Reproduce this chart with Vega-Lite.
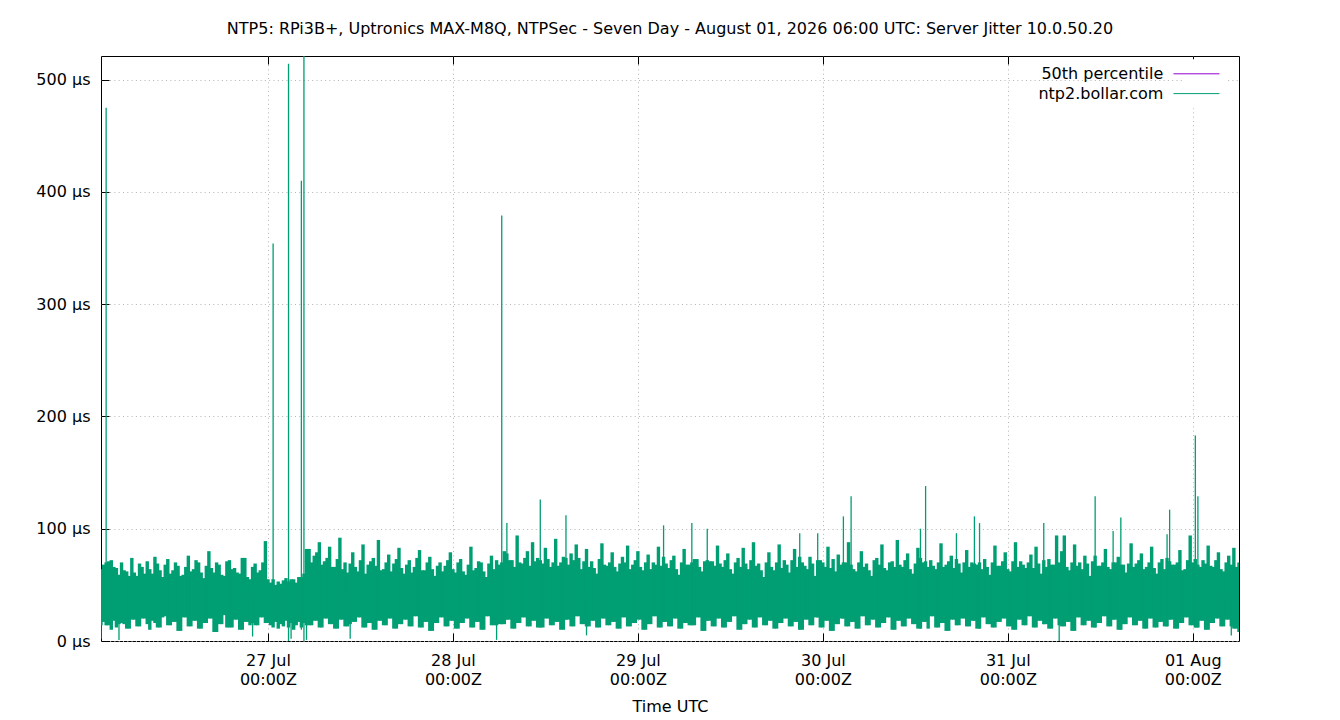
{
  "$schema": "https://vega.github.io/schema/vega-lite/v6.json",
  "width": 1138,
  "height": 585,
  "autosize": {"type": "none"},
  "padding": {"left": 101, "top": 56, "right": 101, "bottom": 79},
  "background": "white",
  "title": {"text": "NTP5: RPi3B+, Uptronics MAX-M8Q, NTPSec - Seven Day - August 01, 2026 06:00 UTC: Server Jitter 10.0.50.20", "font": "DejaVu Sans", "fontSize": 16, "fontWeight": "normal", "color": "black", "anchor": "middle", "offset": 19},
  "config": {
    "view": {"stroke": "black", "strokeWidth": 1},
    "axis": {"labelFont": "DejaVu Sans", "labelFontSize": 16, "labelColor": "black", "titleFont": "DejaVu Sans", "titleFontSize": 16, "titleFontWeight": "normal", "titleColor": "black", "tickColor": "black", "domain": false, "gridColor": "#b4b4b4", "gridDash": [1, 3.3], "gridWidth": 1},
    "legend": {"orient": "none", "legendX": 1081, "legendY": 3.3, "fillColor": "white", "labelFont": "DejaVu Sans", "labelFontSize": 16, "labelColor": "black", "labelAlign": "right", "labelOffset": -41.7, "symbolType": "M-3,0H3", "symbolSize": 235, "symbolStrokeWidth": 1, "rowPadding": 2.8, "padding": 6}
  },
  "data": {
    "values": [
      {"t":"2026-07-26T02:20","lo":14,"hi":64},{"t":"2026-07-26T02:40","lo":17,"hi":68},{"t":"2026-07-26T03:00","lo":14,"hi":70},{"t":"2026-07-26T03:20","lo":14,"hi":71},{"t":"2026-07-26T03:40","lo":10,"hi":72},
      {"t":"2026-07-26T04:00","lo":18,"hi":66},{"t":"2026-07-26T04:20","lo":12,"hi":65},{"t":"2026-07-26T04:40","lo":15,"hi":59},{"t":"2026-07-26T05:00","lo":16,"hi":70},{"t":"2026-07-26T05:20","lo":15,"hi":63},{"t":"2026-07-26T05:40","lo":11,"hi":62},
      {"t":"2026-07-26T06:00","lo":11,"hi":58},{"t":"2026-07-26T06:20","lo":19,"hi":74},{"t":"2026-07-26T06:40","lo":19,"hi":61},{"t":"2026-07-26T07:00","lo":13,"hi":58},{"t":"2026-07-26T07:20","lo":13,"hi":69},{"t":"2026-07-26T07:40","lo":20,"hi":66},
      {"t":"2026-07-26T08:00","lo":20,"hi":60},{"t":"2026-07-26T08:20","lo":15,"hi":71},{"t":"2026-07-26T08:40","lo":10,"hi":64},{"t":"2026-07-26T09:00","lo":18,"hi":60},{"t":"2026-07-26T09:20","lo":16,"hi":75},{"t":"2026-07-26T09:40","lo":12,"hi":69},
      {"t":"2026-07-26T10:00","lo":12,"hi":63},{"t":"2026-07-26T10:20","lo":21,"hi":57},{"t":"2026-07-26T10:40","lo":22,"hi":68},{"t":"2026-07-26T11:00","lo":14,"hi":73},{"t":"2026-07-26T11:20","lo":14,"hi":60},{"t":"2026-07-26T11:40","lo":17,"hi":63},
      {"t":"2026-07-26T12:00","lo":17,"hi":70},{"t":"2026-07-26T12:20","lo":9,"hi":67},{"t":"2026-07-26T12:40","lo":9,"hi":58},{"t":"2026-07-26T13:00","lo":21,"hi":59},{"t":"2026-07-26T13:20","lo":21,"hi":66},{"t":"2026-07-26T13:40","lo":13,"hi":76},
      {"t":"2026-07-26T14:00","lo":13,"hi":62},{"t":"2026-07-26T14:20","lo":18,"hi":64},{"t":"2026-07-26T14:40","lo":18,"hi":72},{"t":"2026-07-26T15:00","lo":11,"hi":70},{"t":"2026-07-26T15:20","lo":11,"hi":61},{"t":"2026-07-26T15:40","lo":16,"hi":56},
      {"t":"2026-07-26T16:00","lo":16,"hi":67},{"t":"2026-07-26T16:20","lo":20,"hi":80},{"t":"2026-07-26T16:40","lo":20,"hi":65},{"t":"2026-07-26T17:00","lo":8,"hi":61},{"t":"2026-07-26T17:20","lo":8,"hi":70},{"t":"2026-07-26T17:40","lo":15,"hi":68},
      {"t":"2026-07-26T18:00","lo":15,"hi":59},{"t":"2026-07-26T18:20","lo":23,"hi":58},{"t":"2026-07-26T18:40","lo":12,"hi":71},{"t":"2026-07-26T19:00","lo":12,"hi":72},{"t":"2026-07-26T19:20","lo":12,"hi":64},{"t":"2026-07-26T19:40","lo":19,"hi":65},
      {"t":"2026-07-26T20:00","lo":19,"hi":61},{"t":"2026-07-26T20:20","lo":10,"hi":60},{"t":"2026-07-26T20:40","lo":10,"hi":74},{"t":"2026-07-26T21:00","lo":17,"hi":74},{"t":"2026-07-26T21:20","lo":17,"hi":57},{"t":"2026-07-26T21:40","lo":14,"hi":55},
      {"t":"2026-07-26T22:00","lo":16,"hi":66},{"t":"2026-07-26T22:20","lo":14,"hi":69},{"t":"2026-07-26T22:40","lo":14,"hi":61},{"t":"2026-07-26T23:00","lo":21,"hi":63},{"t":"2026-07-26T23:20","lo":21,"hi":70},{"t":"2026-07-26T23:40","lo":16,"hi":89},
      {"t":"2026-07-27T00:00","lo":16,"hi":55},{"t":"2026-07-27T00:20","lo":14,"hi":52},{"t":"2026-07-27T00:40","lo":12,"hi":55},{"t":"2026-07-27T01:00","lo":17,"hi":50},{"t":"2026-07-27T01:20","lo":11,"hi":53},{"t":"2026-07-27T01:40","lo":15,"hi":51},
      {"t":"2026-07-27T02:00","lo":13,"hi":54},{"t":"2026-07-27T02:20","lo":18,"hi":56},{"t":"2026-07-27T02:40","lo":12,"hi":53},{"t":"2026-07-27T03:00","lo":16,"hi":55},{"t":"2026-07-27T03:20","lo":10,"hi":55},{"t":"2026-07-27T03:40","lo":14,"hi":52},
      {"t":"2026-07-27T04:00","lo":17,"hi":57},{"t":"2026-07-27T04:20","lo":12,"hi":57},{"t":"2026-07-27T04:40","lo":16,"hi":60},{"t":"2026-07-27T05:00","lo":14,"hi":82},{"t":"2026-07-27T05:20","lo":14,"hi":82},{"t":"2026-07-27T05:40","lo":14,"hi":70},
      {"t":"2026-07-27T06:00","lo":18,"hi":76},{"t":"2026-07-27T06:20","lo":18,"hi":79},{"t":"2026-07-27T06:40","lo":12,"hi":88},{"t":"2026-07-27T07:00","lo":12,"hi":68},{"t":"2026-07-27T07:20","lo":20,"hi":71},{"t":"2026-07-27T07:40","lo":20,"hi":74},
      {"t":"2026-07-27T08:00","lo":15,"hi":84},{"t":"2026-07-27T08:20","lo":15,"hi":66},{"t":"2026-07-27T08:40","lo":11,"hi":66},{"t":"2026-07-27T09:00","lo":11,"hi":73},{"t":"2026-07-27T09:20","lo":19,"hi":92},{"t":"2026-07-27T09:40","lo":19,"hi":64},
      {"t":"2026-07-27T10:00","lo":13,"hi":70},{"t":"2026-07-27T10:20","lo":13,"hi":61},{"t":"2026-07-27T10:40","lo":15,"hi":69},{"t":"2026-07-27T11:00","lo":17,"hi":79},{"t":"2026-07-27T11:20","lo":17,"hi":66},{"t":"2026-07-27T11:40","lo":21,"hi":62},
      {"t":"2026-07-27T12:00","lo":21,"hi":72},{"t":"2026-07-27T12:20","lo":12,"hi":86},{"t":"2026-07-27T12:40","lo":12,"hi":60},{"t":"2026-07-27T13:00","lo":16,"hi":68},{"t":"2026-07-27T13:20","lo":16,"hi":71},{"t":"2026-07-27T13:40","lo":10,"hi":74},
      {"t":"2026-07-27T14:00","lo":10,"hi":67},{"t":"2026-07-27T14:20","lo":18,"hi":90},{"t":"2026-07-27T14:40","lo":18,"hi":63},{"t":"2026-07-27T15:00","lo":14,"hi":64},{"t":"2026-07-27T15:20","lo":14,"hi":70},{"t":"2026-07-27T15:40","lo":20,"hi":77},
      {"t":"2026-07-27T16:00","lo":20,"hi":62},{"t":"2026-07-27T16:20","lo":11,"hi":69},{"t":"2026-07-27T16:40","lo":11,"hi":73},{"t":"2026-07-27T17:00","lo":15,"hi":83},{"t":"2026-07-27T17:20","lo":15,"hi":65},{"t":"2026-07-27T17:40","lo":19,"hi":60},
      {"t":"2026-07-27T18:00","lo":19,"hi":68},{"t":"2026-07-27T18:20","lo":13,"hi":72},{"t":"2026-07-27T18:40","lo":13,"hi":61},{"t":"2026-07-27T19:00","lo":22,"hi":66},{"t":"2026-07-27T19:20","lo":22,"hi":74},{"t":"2026-07-27T19:40","lo":12,"hi":81},
      {"t":"2026-07-27T20:00","lo":12,"hi":63},{"t":"2026-07-27T20:20","lo":17,"hi":63},{"t":"2026-07-27T20:40","lo":17,"hi":70},{"t":"2026-07-27T21:00","lo":9,"hi":75},{"t":"2026-07-27T21:20","lo":9,"hi":64},{"t":"2026-07-27T21:40","lo":16,"hi":58},
      {"t":"2026-07-27T22:00","lo":16,"hi":67},{"t":"2026-07-27T22:20","lo":21,"hi":70},{"t":"2026-07-27T22:40","lo":21,"hi":62},{"t":"2026-07-27T23:00","lo":13,"hi":67},{"t":"2026-07-27T23:20","lo":13,"hi":72},{"t":"2026-07-27T23:40","lo":18,"hi":79},
      {"t":"2026-07-28T00:00","lo":18,"hi":64},{"t":"2026-07-28T00:20","lo":11,"hi":61},{"t":"2026-07-28T00:40","lo":11,"hi":70},{"t":"2026-07-28T01:00","lo":16,"hi":73},{"t":"2026-07-28T01:20","lo":16,"hi":62},{"t":"2026-07-28T01:40","lo":20,"hi":59},
      {"t":"2026-07-28T02:00","lo":20,"hi":68},{"t":"2026-07-28T02:20","lo":12,"hi":84},{"t":"2026-07-28T02:40","lo":12,"hi":63},{"t":"2026-07-28T03:00","lo":17,"hi":65},{"t":"2026-07-28T03:20","lo":17,"hi":71},{"t":"2026-07-28T03:40","lo":10,"hi":70},
      {"t":"2026-07-28T04:00","lo":10,"hi":62},{"t":"2026-07-28T04:20","lo":22,"hi":57},{"t":"2026-07-28T04:40","lo":22,"hi":69},{"t":"2026-07-28T05:00","lo":14,"hi":76},{"t":"2026-07-28T05:20","lo":14,"hi":64},{"t":"2026-07-28T05:40","lo":14,"hi":72},
      {"t":"2026-07-28T06:00","lo":15,"hi":68},{"t":"2026-07-28T06:20","lo":15,"hi":70},{"t":"2026-07-28T06:40","lo":15,"hi":80},{"t":"2026-07-28T07:00","lo":19,"hi":78},{"t":"2026-07-28T07:20","lo":19,"hi":72},{"t":"2026-07-28T07:40","lo":11,"hi":72},
      {"t":"2026-07-28T08:00","lo":11,"hi":66},{"t":"2026-07-28T08:20","lo":16,"hi":94},{"t":"2026-07-28T08:40","lo":16,"hi":70},{"t":"2026-07-28T09:00","lo":21,"hi":69},{"t":"2026-07-28T09:20","lo":21,"hi":74},{"t":"2026-07-28T09:40","lo":13,"hi":80},
      {"t":"2026-07-28T10:00","lo":13,"hi":67},{"t":"2026-07-28T10:20","lo":18,"hi":88},{"t":"2026-07-28T10:40","lo":18,"hi":71},{"t":"2026-07-28T11:00","lo":12,"hi":74},{"t":"2026-07-28T11:20","lo":12,"hi":72},{"t":"2026-07-28T11:40","lo":12,"hi":69},
      {"t":"2026-07-28T12:00","lo":20,"hi":83},{"t":"2026-07-28T12:20","lo":20,"hi":73},{"t":"2026-07-28T12:40","lo":14,"hi":66},{"t":"2026-07-28T13:00","lo":14,"hi":70},{"t":"2026-07-28T13:20","lo":17,"hi":91},{"t":"2026-07-28T13:40","lo":17,"hi":67},
      {"t":"2026-07-28T14:00","lo":10,"hi":70},{"t":"2026-07-28T14:20","lo":10,"hi":75},{"t":"2026-07-28T14:40","lo":19,"hi":74},{"t":"2026-07-28T15:00","lo":19,"hi":68},{"t":"2026-07-28T15:20","lo":13,"hi":78},{"t":"2026-07-28T15:40","lo":13,"hi":72},
      {"t":"2026-07-28T16:00","lo":22,"hi":86},{"t":"2026-07-28T16:20","lo":22,"hi":74},{"t":"2026-07-28T16:40","lo":15,"hi":64},{"t":"2026-07-28T17:00","lo":15,"hi":71},{"t":"2026-07-28T17:20","lo":13,"hi":82},{"t":"2026-07-28T17:40","lo":13,"hi":66},
      {"t":"2026-07-28T18:00","lo":18,"hi":71},{"t":"2026-07-28T18:20","lo":18,"hi":65},{"t":"2026-07-28T18:40","lo":12,"hi":60},{"t":"2026-07-28T19:00","lo":12,"hi":73},{"t":"2026-07-28T19:20","lo":20,"hi":87},{"t":"2026-07-28T19:40","lo":20,"hi":68},
      {"t":"2026-07-28T20:00","lo":14,"hi":67},{"t":"2026-07-28T20:20","lo":14,"hi":70},{"t":"2026-07-28T20:40","lo":17,"hi":79},{"t":"2026-07-28T21:00","lo":17,"hi":66},{"t":"2026-07-28T21:20","lo":11,"hi":62},{"t":"2026-07-28T21:40","lo":11,"hi":69},
      {"t":"2026-07-28T22:00","lo":21,"hi":75},{"t":"2026-07-28T22:20","lo":21,"hi":70},{"t":"2026-07-28T22:40","lo":13,"hi":85},{"t":"2026-07-28T23:00","lo":13,"hi":64},{"t":"2026-07-28T23:20","lo":16,"hi":68},{"t":"2026-07-28T23:40","lo":16,"hi":72},
      {"t":"2026-07-29T00:00","lo":19,"hi":80},{"t":"2026-07-29T00:20","lo":19,"hi":66},{"t":"2026-07-29T00:40","lo":10,"hi":63},{"t":"2026-07-29T01:00","lo":10,"hi":70},{"t":"2026-07-29T01:20","lo":15,"hi":77},{"t":"2026-07-29T01:40","lo":15,"hi":64},
      {"t":"2026-07-29T02:00","lo":22,"hi":70},{"t":"2026-07-29T02:20","lo":22,"hi":68},{"t":"2026-07-29T02:40","lo":12,"hi":84},{"t":"2026-07-29T03:00","lo":12,"hi":67},{"t":"2026-07-29T03:20","lo":17,"hi":75},{"t":"2026-07-29T03:40","lo":17,"hi":69},
      {"t":"2026-07-29T04:00","lo":13,"hi":65},{"t":"2026-07-29T04:20","lo":13,"hi":72},{"t":"2026-07-29T04:40","lo":20,"hi":76},{"t":"2026-07-29T05:00","lo":20,"hi":64},{"t":"2026-07-29T05:20","lo":11,"hi":59},{"t":"2026-07-29T05:40","lo":11,"hi":70},
      {"t":"2026-07-29T06:00","lo":16,"hi":82},{"t":"2026-07-29T06:20","lo":16,"hi":68},{"t":"2026-07-29T06:40","lo":14,"hi":68},{"t":"2026-07-29T07:00","lo":14,"hi":70},{"t":"2026-07-29T07:20","lo":14,"hi":73},{"t":"2026-07-29T07:40","lo":21,"hi":73},
      {"t":"2026-07-29T08:00","lo":21,"hi":66},{"t":"2026-07-29T08:20","lo":9,"hi":62},{"t":"2026-07-29T08:40","lo":9,"hi":71},{"t":"2026-07-29T09:00","lo":18,"hi":72},{"t":"2026-07-29T09:20","lo":18,"hi":71},{"t":"2026-07-29T09:40","lo":13,"hi":71},
      {"t":"2026-07-29T10:00","lo":13,"hi":67},{"t":"2026-07-29T10:20","lo":20,"hi":85},{"t":"2026-07-29T10:40","lo":20,"hi":69},{"t":"2026-07-29T11:00","lo":12,"hi":66},{"t":"2026-07-29T11:20","lo":12,"hi":72},{"t":"2026-07-29T11:40","lo":17,"hi":78},
      {"t":"2026-07-29T12:00","lo":17,"hi":64},{"t":"2026-07-29T12:20","lo":22,"hi":60},{"t":"2026-07-29T12:40","lo":22,"hi":70},{"t":"2026-07-29T13:00","lo":10,"hi":74},{"t":"2026-07-29T13:20","lo":10,"hi":66},{"t":"2026-07-29T13:40","lo":15,"hi":83},
      {"t":"2026-07-29T14:00","lo":15,"hi":69},{"t":"2026-07-29T14:20","lo":19,"hi":64},{"t":"2026-07-29T14:40","lo":19,"hi":72},{"t":"2026-07-29T15:00","lo":12,"hi":88},{"t":"2026-07-29T15:20","lo":12,"hi":67},{"t":"2026-07-29T15:40","lo":21,"hi":69},
      {"t":"2026-07-29T16:00","lo":21,"hi":63},{"t":"2026-07-29T16:20","lo":14,"hi":57},{"t":"2026-07-29T16:40","lo":14,"hi":70},{"t":"2026-07-29T17:00","lo":18,"hi":79},{"t":"2026-07-29T17:20","lo":18,"hi":66},{"t":"2026-07-29T17:40","lo":11,"hi":63},
      {"t":"2026-07-29T18:00","lo":11,"hi":70},{"t":"2026-07-29T18:20","lo":16,"hi":86},{"t":"2026-07-29T18:40","lo":16,"hi":65},{"t":"2026-07-29T19:00","lo":20,"hi":72},{"t":"2026-07-29T19:20","lo":20,"hi":68},{"t":"2026-07-29T19:40","lo":13,"hi":61},
      {"t":"2026-07-29T20:00","lo":13,"hi":72},{"t":"2026-07-29T20:20","lo":17,"hi":82},{"t":"2026-07-29T20:40","lo":17,"hi":66},{"t":"2026-07-29T21:00","lo":10,"hi":75},{"t":"2026-07-29T21:20","lo":10,"hi":70},{"t":"2026-07-29T21:40","lo":19,"hi":67},
      {"t":"2026-07-29T22:00","lo":19,"hi":64},{"t":"2026-07-29T22:20","lo":14,"hi":75},{"t":"2026-07-29T22:40","lo":14,"hi":69},{"t":"2026-07-29T23:00","lo":21,"hi":58},{"t":"2026-07-29T23:20","lo":21,"hi":72},{"t":"2026-07-29T23:40","lo":12,"hi":72},
      {"t":"2026-07-30T00:00","lo":12,"hi":70},{"t":"2026-07-30T00:20","lo":18,"hi":66},{"t":"2026-07-30T00:40","lo":18,"hi":84},{"t":"2026-07-30T01:00","lo":9,"hi":65},{"t":"2026-07-30T01:20","lo":9,"hi":73},{"t":"2026-07-30T01:40","lo":15,"hi":62},
      {"t":"2026-07-30T02:00","lo":15,"hi":77},{"t":"2026-07-30T02:20","lo":20,"hi":68},{"t":"2026-07-30T02:40","lo":20,"hi":70},{"t":"2026-07-30T03:00","lo":13,"hi":70},{"t":"2026-07-30T03:20","lo":13,"hi":88},{"t":"2026-07-30T03:40","lo":17,"hi":68},
      {"t":"2026-07-30T04:00","lo":17,"hi":64},{"t":"2026-07-30T04:20","lo":11,"hi":62},{"t":"2026-07-30T04:40","lo":11,"hi":70},{"t":"2026-07-30T05:00","lo":22,"hi":80},{"t":"2026-07-30T05:20","lo":22,"hi":66},{"t":"2026-07-30T05:40","lo":14,"hi":69},
      {"t":"2026-07-30T06:00","lo":14,"hi":63},{"t":"2026-07-30T06:20","lo":19,"hi":58},{"t":"2026-07-30T06:40","lo":19,"hi":72},{"t":"2026-07-30T07:00","lo":12,"hi":74},{"t":"2026-07-30T07:20","lo":12,"hi":68},{"t":"2026-07-30T07:40","lo":16,"hi":86},
      {"t":"2026-07-30T08:00","lo":16,"hi":65},{"t":"2026-07-30T08:20","lo":21,"hi":63},{"t":"2026-07-30T08:40","lo":21,"hi":70},{"t":"2026-07-30T09:00","lo":10,"hi":71},{"t":"2026-07-30T09:20","lo":10,"hi":66},{"t":"2026-07-30T09:40","lo":18,"hi":90},
      {"t":"2026-07-30T10:00","lo":18,"hi":68},{"t":"2026-07-30T10:20","lo":13,"hi":66},{"t":"2026-07-30T10:40","lo":13,"hi":72},{"t":"2026-07-30T11:00","lo":20,"hi":78},{"t":"2026-07-30T11:20","lo":20,"hi":64},{"t":"2026-07-30T11:40","lo":15,"hi":60},
      {"t":"2026-07-30T12:00","lo":15,"hi":69},{"t":"2026-07-30T12:20","lo":11,"hi":83},{"t":"2026-07-30T12:40","lo":11,"hi":74},{"t":"2026-07-30T13:00","lo":17,"hi":70},{"t":"2026-07-30T13:20","lo":17,"hi":71},{"t":"2026-07-30T13:40","lo":11,"hi":66},
      {"t":"2026-07-30T14:00","lo":22,"hi":72},{"t":"2026-07-30T14:20","lo":22,"hi":67},{"t":"2026-07-30T14:40","lo":12,"hi":64},{"t":"2026-07-30T15:00","lo":12,"hi":70},{"t":"2026-07-30T15:20","lo":16,"hi":87},{"t":"2026-07-30T15:40","lo":16,"hi":66},
      {"t":"2026-07-30T16:00","lo":9,"hi":68},{"t":"2026-07-30T16:20","lo":9,"hi":71},{"t":"2026-07-30T16:40","lo":19,"hi":76},{"t":"2026-07-30T17:00","lo":19,"hi":65},{"t":"2026-07-30T17:20","lo":14,"hi":73},{"t":"2026-07-30T17:40","lo":14,"hi":69},
      {"t":"2026-07-30T18:00","lo":20,"hi":61},{"t":"2026-07-30T18:20","lo":20,"hi":70},{"t":"2026-07-30T18:40","lo":13,"hi":81},{"t":"2026-07-30T19:00","lo":13,"hi":66},{"t":"2026-07-30T19:20","lo":18,"hi":70},{"t":"2026-07-30T19:40","lo":18,"hi":69},
      {"t":"2026-07-30T20:00","lo":11,"hi":68},{"t":"2026-07-30T20:20","lo":11,"hi":70},{"t":"2026-07-30T20:40","lo":21,"hi":64},{"t":"2026-07-30T21:00","lo":21,"hi":73},{"t":"2026-07-30T21:20","lo":15,"hi":66},{"t":"2026-07-30T21:40","lo":15,"hi":59},
      {"t":"2026-07-30T22:00","lo":12,"hi":70},{"t":"2026-07-30T22:20","lo":12,"hi":85},{"t":"2026-07-30T22:40","lo":17,"hi":67},{"t":"2026-07-30T23:00","lo":17,"hi":67},{"t":"2026-07-30T23:20","lo":20,"hi":71},{"t":"2026-07-30T23:40","lo":20,"hi":79},
      {"t":"2026-07-31T00:00","lo":13,"hi":64},{"t":"2026-07-31T00:20","lo":13,"hi":62},{"t":"2026-07-31T00:40","lo":10,"hi":71},{"t":"2026-07-31T01:00","lo":10,"hi":88},{"t":"2026-07-31T01:20","lo":19,"hi":66},{"t":"2026-07-31T01:40","lo":19,"hi":71},
      {"t":"2026-07-31T02:00","lo":14,"hi":68},{"t":"2026-07-31T02:20","lo":14,"hi":65},{"t":"2026-07-31T02:40","lo":22,"hi":70},{"t":"2026-07-31T03:00","lo":22,"hi":77},{"t":"2026-07-31T03:20","lo":12,"hi":65},{"t":"2026-07-31T03:40","lo":12,"hi":84},
      {"t":"2026-07-31T04:00","lo":18,"hi":69},{"t":"2026-07-31T04:20","lo":18,"hi":60},{"t":"2026-07-31T04:40","lo":15,"hi":72},{"t":"2026-07-31T05:00","lo":15,"hi":66},{"t":"2026-07-31T05:20","lo":11,"hi":73},{"t":"2026-07-31T05:40","lo":11,"hi":68},
      {"t":"2026-07-31T06:00","lo":20,"hi":68},{"t":"2026-07-31T06:20","lo":20,"hi":94},{"t":"2026-07-31T06:40","lo":14,"hi":70},{"t":"2026-07-31T07:00","lo":13,"hi":80},{"t":"2026-07-31T07:20","lo":13,"hi":94},{"t":"2026-07-31T07:40","lo":17,"hi":66},
      {"t":"2026-07-31T08:00","lo":17,"hi":63},{"t":"2026-07-31T08:20","lo":9,"hi":70},{"t":"2026-07-31T08:40","lo":9,"hi":86},{"t":"2026-07-31T09:00","lo":21,"hi":67},{"t":"2026-07-31T09:20","lo":21,"hi":70},{"t":"2026-07-31T09:40","lo":14,"hi":64},
      {"t":"2026-07-31T10:00","lo":14,"hi":76},{"t":"2026-07-31T10:20","lo":18,"hi":69},{"t":"2026-07-31T10:40","lo":18,"hi":58},{"t":"2026-07-31T11:00","lo":12,"hi":71},{"t":"2026-07-31T11:20","lo":12,"hi":76},{"t":"2026-07-31T11:40","lo":16,"hi":67},
      {"t":"2026-07-31T12:00","lo":16,"hi":67},{"t":"2026-07-31T12:20","lo":22,"hi":70},{"t":"2026-07-31T12:40","lo":22,"hi":82},{"t":"2026-07-31T13:00","lo":13,"hi":66},{"t":"2026-07-31T13:20","lo":13,"hi":64},{"t":"2026-07-31T13:40","lo":19,"hi":70},
      {"t":"2026-07-31T14:00","lo":19,"hi":70},{"t":"2026-07-31T14:20","lo":10,"hi":75},{"t":"2026-07-31T14:40","lo":10,"hi":68},{"t":"2026-07-31T15:00","lo":15,"hi":68},{"t":"2026-07-31T15:20","lo":15,"hi":61},{"t":"2026-07-31T15:40","lo":21,"hi":69},
      {"t":"2026-07-31T16:00","lo":21,"hi":87},{"t":"2026-07-31T16:20","lo":14,"hi":66},{"t":"2026-07-31T16:40","lo":14,"hi":69},{"t":"2026-07-31T17:00","lo":18,"hi":72},{"t":"2026-07-31T17:20","lo":18,"hi":78},{"t":"2026-07-31T17:40","lo":11,"hi":64},
      {"t":"2026-07-31T18:00","lo":11,"hi":66},{"t":"2026-07-31T18:20","lo":20,"hi":70},{"t":"2026-07-31T18:40","lo":20,"hi":84},{"t":"2026-07-31T19:00","lo":12,"hi":65},{"t":"2026-07-31T19:20","lo":12,"hi":60},{"t":"2026-07-31T19:40","lo":17,"hi":70},
      {"t":"2026-07-31T20:00","lo":17,"hi":73},{"t":"2026-07-31T20:20","lo":13,"hi":64},{"t":"2026-07-31T20:40","lo":13,"hi":74},{"t":"2026-07-31T21:00","lo":19,"hi":71},{"t":"2026-07-31T21:20","lo":19,"hi":68},{"t":"2026-07-31T21:40","lo":11,"hi":68},
      {"t":"2026-07-31T22:00","lo":11,"hi":70},{"t":"2026-07-31T22:20","lo":16,"hi":81},{"t":"2026-07-31T22:40","lo":16,"hi":63},{"t":"2026-07-31T23:00","lo":21,"hi":64},{"t":"2026-07-31T23:20","lo":21,"hi":72},{"t":"2026-07-31T23:40","lo":14,"hi":94},
      {"t":"2026-08-01T00:00","lo":14,"hi":70},{"t":"2026-08-01T00:20","lo":12,"hi":73},{"t":"2026-08-01T00:40","lo":12,"hi":68},{"t":"2026-08-01T01:00","lo":18,"hi":66},{"t":"2026-08-01T01:20","lo":18,"hi":72},{"t":"2026-08-01T01:40","lo":10,"hi":69},
      {"t":"2026-08-01T02:00","lo":10,"hi":85},{"t":"2026-08-01T02:20","lo":16,"hi":67},{"t":"2026-08-01T02:40","lo":16,"hi":66},{"t":"2026-08-01T03:00","lo":20,"hi":72},{"t":"2026-08-01T03:20","lo":20,"hi":79},{"t":"2026-08-01T03:40","lo":13,"hi":64},
      {"t":"2026-08-01T04:00","lo":13,"hi":62},{"t":"2026-08-01T04:20","lo":19,"hi":70},{"t":"2026-08-01T04:40","lo":19,"hi":76},{"t":"2026-08-01T05:00","lo":13,"hi":68},{"t":"2026-08-01T05:20","lo":11,"hi":83},{"t":"2026-08-01T05:40","lo":11,"hi":66},
      {"t":"2026-08-01T06:00","lo":8,"hi":70}
    ],
    "format": {"parse": {"t": "utc:'%Y-%m-%dT%H:%M'"}}
  },
  "layer": [
    {
      "data": {"values": [{"p50": 33}]},
      "mark": {"type": "rule", "strokeWidth": 1},
      "encoding": {
        "x": {"datum": {"year": 2026, "month": 7, "date": 26, "hours": 2, "minutes": 20, "utc": true}, "type": "temporal",
              "scale": {"type": "utc", "domain": [{"year": 2026, "month": 7, "date": 26, "hours": 2, "minutes": 20, "utc": true}, {"year": 2026, "month": 8, "date": 1, "hours": 6, "minutes": 0, "utc": true}]},
              "axis": {"orient": "top", "labels": false, "grid": false, "title": null, "tickSize": -8,
                       "values": [{"year": 2026, "month": 7, "date": 27, "utc": true}, {"year": 2026, "month": 7, "date": 28, "utc": true}, {"year": 2026, "month": 7, "date": 29, "utc": true}, {"year": 2026, "month": 7, "date": 30, "utc": true}, {"year": 2026, "month": 7, "date": 31, "utc": true}, {"year": 2026, "month": 8, "date": 1, "utc": true}]}},
        "x2": {"datum": {"year": 2026, "month": 8, "date": 1, "hours": 6, "minutes": 0, "utc": true}},
        "y": {"field": "p50", "type": "quantitative", "scale": {"domain": [0, 521], "nice": false, "zero": true}},
        "color": {"datum": "50th percentile", "type": "nominal",
                  "scale": {"domain": ["50th percentile", "ntp2.bollar.com"], "range": ["#9400d3", "#009e73"]},
                  "legend": {"title": null}}
      }
    },
    {
      "mark": {"type": "rule", "strokeWidth": 3.4, "clip": true},
      "encoding": {
        "x": {"field": "t", "type": "temporal",
              "scale": {"type": "utc", "domain": [{"year": 2026, "month": 7, "date": 26, "hours": 2, "minutes": 20, "utc": true}, {"year": 2026, "month": 8, "date": 1, "hours": 6, "minutes": 0, "utc": true}]},
              "axis": {"orient": "bottom", "title": "Time UTC", "titlePadding": 11, "grid": true, "tickSize": -8, "labelPadding": 19, "labelFlush": false, "labelOverlap": false, "labelLineHeight": 19, "labelBaseline": "top",
                       "labelExpr": "[utcFormat(datum.value, '%d %b'), utcFormat(datum.value, '%H:%MZ')]",
                       "values": [{"year": 2026, "month": 7, "date": 27, "utc": true}, {"year": 2026, "month": 7, "date": 28, "utc": true}, {"year": 2026, "month": 7, "date": 29, "utc": true}, {"year": 2026, "month": 7, "date": 30, "utc": true}, {"year": 2026, "month": 7, "date": 31, "utc": true}, {"year": 2026, "month": 8, "date": 1, "utc": true}]}},
        "y": {"field": "lo", "type": "quantitative", "scale": {"domain": [0, 521], "nice": false, "zero": true},
              "axis": {"orient": "left", "title": null, "grid": true, "tickSize": -8, "labelPadding": 19, "values": [0, 100, 200, 300, 400, 500], "labelExpr": "datum.value + ' µs'"}},
        "y2": {"field": "hi"},
        "color": {"datum": "ntp2.bollar.com", "type": "nominal",
                  "scale": {"domain": ["50th percentile", "ntp2.bollar.com"], "range": ["#9400d3", "#009e73"]},
                  "legend": {"title": null}}
      }
    },
    {
      "data": {
        "values": [
          {"t":"2026-07-26T02:20","lo":2,"hi":40},{"t":"2026-07-26T03:00","lo":14,"hi":475},{"t":"2026-07-26T04:40","lo":1,"hi":40},{"t":"2026-07-26T22:00","lo":4,"hi":40},
          {"t":"2026-07-27T00:40","lo":20,"hi":354},{"t":"2026-07-27T02:40","lo":0,"hi":514},{"t":"2026-07-27T03:00","lo":2,"hi":40},{"t":"2026-07-27T04:20","lo":10,"hi":410},
          {"t":"2026-07-27T04:40","lo":0,"hi":530},{"t":"2026-07-27T05:00","lo":1,"hi":40},{"t":"2026-07-27T10:40","lo":2,"hi":40},
          {"t":"2026-07-28T05:40","lo":1,"hi":40},{"t":"2026-07-28T06:20","lo":15,"hi":379},{"t":"2026-07-28T07:00","lo":19,"hi":105},{"t":"2026-07-28T11:20","lo":12,"hi":126},
          {"t":"2026-07-28T14:40","lo":19,"hi":112},{"t":"2026-07-28T17:20","lo":5,"hi":40},
          {"t":"2026-07-29T03:20","lo":17,"hi":103},{"t":"2026-07-29T07:00","lo":14,"hi":105},{"t":"2026-07-29T09:00","lo":18,"hi":100},{"t":"2026-07-29T21:00","lo":10,"hi":96},{"t":"2026-07-29T23:20","lo":21,"hi":96},
          {"t":"2026-07-30T02:40","lo":20,"hi":111},{"t":"2026-07-30T03:40","lo":17,"hi":129},{"t":"2026-07-30T12:40","lo":11,"hi":100},{"t":"2026-07-30T13:20","lo":17,"hi":138},
          {"t":"2026-07-30T17:20","lo":14,"hi":96},{"t":"2026-07-30T19:40","lo":18,"hi":111},{"t":"2026-07-30T20:20","lo":11,"hi":105},
          {"t":"2026-07-31T04:40","lo":15,"hi":105},{"t":"2026-07-31T06:40","lo":0,"hi":40},{"t":"2026-07-31T11:20","lo":12,"hi":129},{"t":"2026-07-31T13:40","lo":19,"hi":98},
          {"t":"2026-07-31T14:40","lo":10,"hi":110},{"t":"2026-07-31T20:40","lo":13,"hi":95},{"t":"2026-07-31T21:00","lo":19,"hi":117},
          {"t":"2026-08-01T00:20","lo":12,"hi":183},{"t":"2026-08-01T00:40","lo":12,"hi":129},{"t":"2026-08-01T05:00","lo":5,"hi":40}
        ],
        "format": {"parse": {"t": "utc:'%Y-%m-%dT%H:%M'"}}
      },
      "mark": {"type": "rule", "strokeWidth": 1.3, "clip": true, "color": "#009e73"},
      "encoding": {
        "x": {"field": "t", "type": "temporal", "axis": null,
              "scale": {"type": "utc", "domain": [{"year": 2026, "month": 7, "date": 26, "hours": 2, "minutes": 20, "utc": true}, {"year": 2026, "month": 8, "date": 1, "hours": 6, "minutes": 0, "utc": true}]}},
        "y": {"field": "lo", "type": "quantitative", "scale": {"domain": [0, 521], "nice": false, "zero": true}},
        "y2": {"field": "hi"}
      }
    }
  ],
  "resolve": {"axis": {"x": "independent"}}
}
